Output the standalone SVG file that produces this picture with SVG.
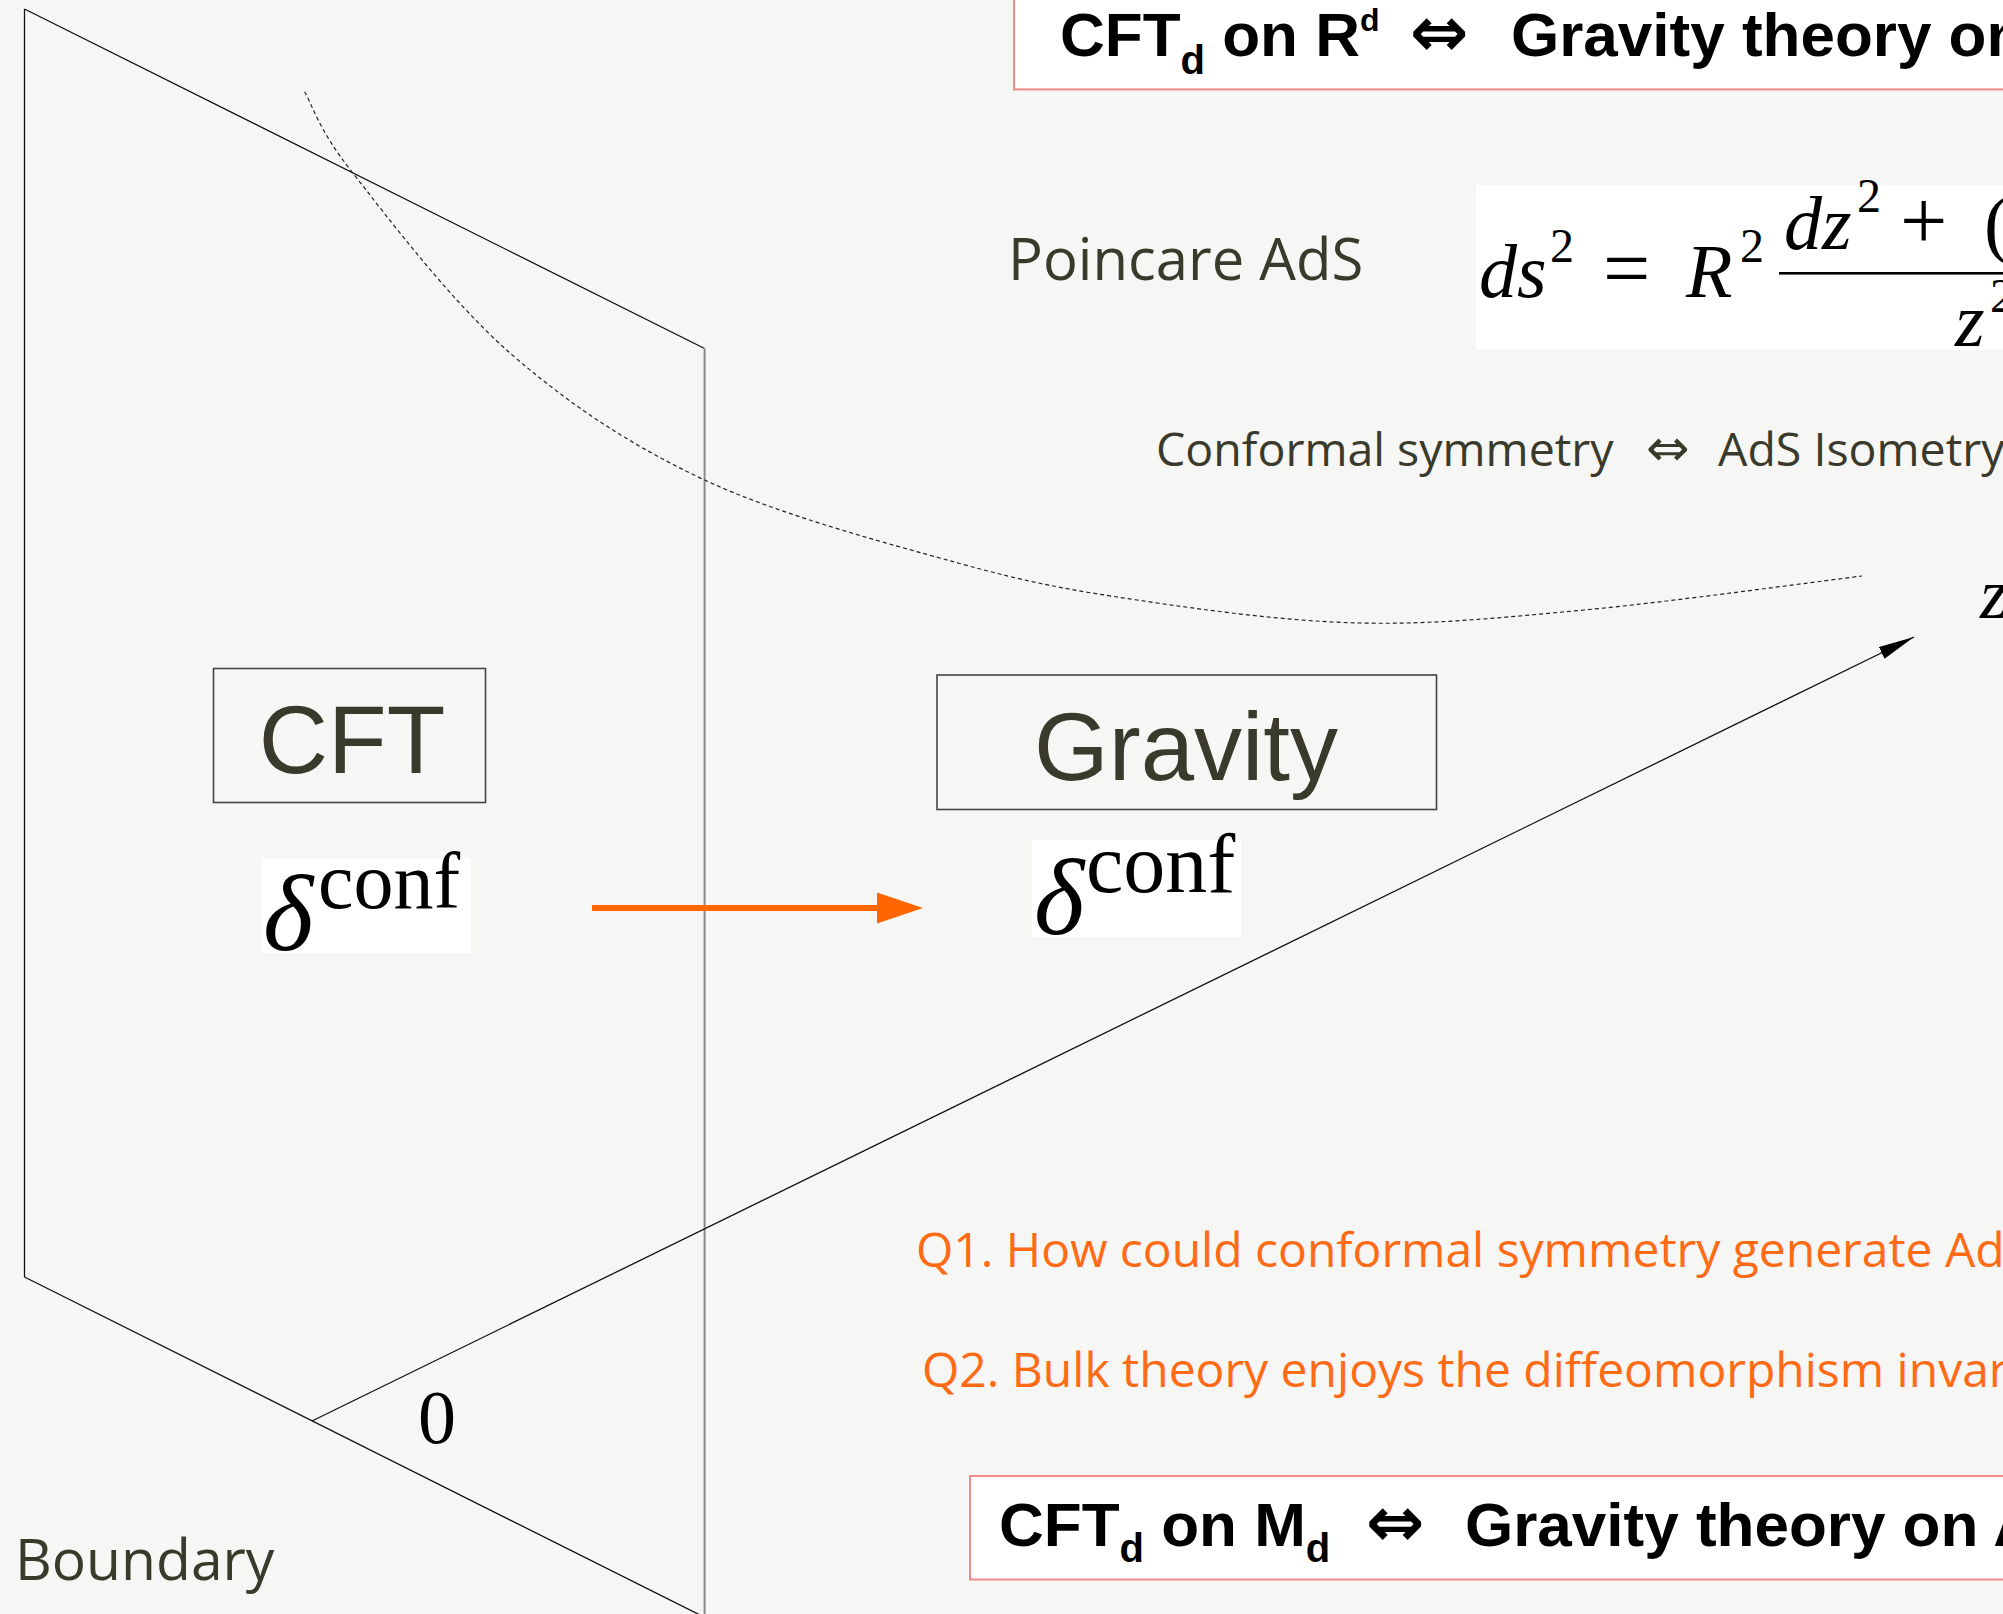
<svg xmlns="http://www.w3.org/2000/svg" width="2003" height="1614" viewBox="0 0 2003 1614">
<defs>
<style>
.bg{fill:#f6f6f4}
.edge{stroke:#111;stroke-width:1.3;fill:none}
.edge2{stroke:#8a8a8a;stroke-width:2;fill:none}
.dash{stroke:#222;stroke-width:1.2;fill:none;stroke-dasharray:4 3}
.box{fill:none;stroke:#444;stroke-width:1.6}
.rbox{fill:#fff;stroke:#f28a8a;stroke-width:2}
.white{fill:#fff}
.hum{font-family:'Open Sans','Noto Sans',sans-serif;fill:#3a3a2c}
.q{font-family:'Open Sans','Noto Sans',sans-serif;fill:#ff6a14;font-size:48px}
.bold{font-family:'Liberation Sans',Arial,sans-serif;font-weight:bold;fill:#000;font-size:62px}
.arr{font-family:'DejaVu Sans',sans-serif}
.math{font-family:'Liberation Serif','Times New Roman',serif;fill:#000}
.big{font-family:'Liberation Sans',Arial,sans-serif;fill:#3a3a2c;font-size:96px}
</style>
<marker id="zhead" viewBox="0 0 36 13" markerWidth="36" markerHeight="13" refX="36" refY="6.5" orient="auto" markerUnits="userSpaceOnUse">
<path d="M0,0 L36,6.5 L0,13 Z" fill="#000"/>
</marker>
<marker id="ohead" viewBox="0 0 46 31" markerWidth="46" markerHeight="31" refX="3" refY="15.5" orient="auto" markerUnits="userSpaceOnUse">
<path d="M0,0 L46,15.5 L0,31 Z" fill="#ff6600"/>
</marker>
</defs>
<rect class="bg" x="0" y="0" width="2003" height="1614"/>

<g id="plane">
<line class="edge" x1="24.5" y1="9" x2="24.5" y2="1277"/>
<line class="edge" x1="24.5" y1="9" x2="704.6" y2="348.5"/>
<line class="edge2" x1="704.6" y1="348.5" x2="704.6" y2="1620"/>
<line class="edge" x1="24.5" y1="1277" x2="710" y2="1620"/>
<path class="dash" d="M304.6,91.7 C312.5,105.1 317.8,128.45 352,172 C386.2,215.55 451.2,301.7 510,353 C568.8,404.3 629.9,445 704.6,480 C779.3,515 885.9,543 958,563 C1030.1,583 1070,590 1137,600 C1204,610 1285.5,621.3 1360,623 C1434.5,624.7 1500.3,617.8 1584,610 C1667.7,602.2 1815.7,581.7 1862,576"/>
<line class="edge" x1="312" y1="1421" x2="1914" y2="637" marker-end="url(#zhead)"/>
</g>

<g id="top-box">
<rect class="rbox" x="1014" y="-6" width="1000" height="95.4"/>
<text class="bold" y="56"><tspan x="1060">CFT</tspan><tspan font-size="40" dy="18">d</tspan><tspan dy="-18"> on R</tspan><tspan font-size="32" dy="-25">d</tspan><tspan class="arr" dy="25" x="1410" font-size="70">⇔</tspan><tspan x="1511">Gravity theory on</tspan></text>
</g>

<g id="poincare-label">
<text class="hum" x="1008" y="280" font-size="58">Poincare AdS</text>
</g>

<g id="formula">
<rect class="white" x="1476" y="185" width="527" height="165"/>
<text class="math" font-size="76"><tspan x="1479" y="297" font-style="italic">ds</tspan><tspan x="1550" y="262" font-size="48">2</tspan><tspan x="1603" y="297" font-size="84">=</tspan><tspan x="1686" y="297" font-style="italic">R</tspan><tspan x="1740" y="262" font-size="48">2</tspan><tspan x="1784" y="249" font-style="italic">dz</tspan><tspan x="1857" y="212" font-size="48">2</tspan><tspan x="1900" y="249" font-size="84">+</tspan><tspan x="1984" y="249">(</tspan><tspan x="1955" y="346" font-style="italic">z</tspan><tspan x="1990" y="312" font-size="48">2</tspan></text>
<rect x="1779" y="272" width="230" height="2.6" fill="#000"/>
</g>

<g id="conformal-text">
<text class="hum" y="466" font-size="46.5"><tspan x="1156">Conformal symmetry</tspan><tspan class="arr" x="1646" font-size="52">⇔</tspan><tspan x="1718">AdS Isometry</tspan></text>
</g>

<g id="z-label">
<text class="math" x="1980" y="618" font-size="72" font-style="italic">z</text>
</g>

<g id="cft-node">
<rect class="box" x="213.5" y="668.5" width="272" height="134"/>
<text class="big" x="352" y="773" text-anchor="middle">CFT</text>
</g>

<g id="cft-delta">
<rect class="white" x="262" y="858" width="209" height="95"/>
<text class="math"><tspan x="263" y="950" font-size="108" font-style="italic">δ</tspan><tspan x="318" y="908" font-size="80">conf</tspan></text>
</g>

<g id="gravity-node">
<rect class="box" x="937" y="675" width="499.5" height="134.5"/>
<text class="big" x="1034" y="780" font-size="97">Gravity</text>
</g>

<g id="gravity-delta">
<rect class="white" x="1032" y="840" width="209" height="97"/>
<text class="math"><tspan x="1034" y="934" font-size="108" font-style="italic">δ</tspan><tspan x="1086" y="892" font-size="84">conf</tspan></text>
</g>

<g id="connectors">
<line x1="592" y1="908" x2="880" y2="908" stroke="#ff6600" stroke-width="6" marker-end="url(#ohead)"/>
</g>

<g id="zero-label">
<text class="math" x="437" y="1443" font-size="76" text-anchor="middle">0</text>
</g>

<g id="q1">
<text class="q" x="916" y="1267">Q1. How could conformal symmetry generate Ad</text>
</g>
<g id="q2">
<text class="q" x="922" y="1387">Q2. Bulk theory enjoys the diffeomorphism invar</text>
</g>

<g id="bottom-box">
<rect class="rbox" x="970" y="1476" width="1050" height="103.5"/>
<text class="bold" y="1546"><tspan x="999">CFT</tspan><tspan font-size="40" dy="16">d</tspan><tspan dy="-16"> on M</tspan><tspan font-size="40" dy="16">d</tspan><tspan class="arr" dy="-16" x="1366" font-size="70">⇔</tspan><tspan x="1465">Gravity theory on A</tspan></text>
</g>

<g id="boundary-label">
<text class="hum" x="15" y="1580" font-size="57">Boundary</text>
</g>
</svg>
